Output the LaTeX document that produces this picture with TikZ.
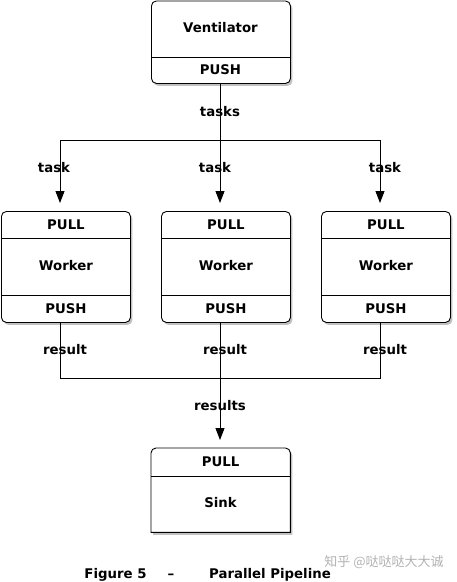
\documentclass[tikz,border=0pt]{standalone}
\usepackage{fontspec}
\setmainfont{DejaVu Sans}
\newfontfamily\cjkfont{Noto Sans CJK SC}
\usetikzlibrary{arrows.meta,shadows,calc}
\begin{document}
\begin{tikzpicture}[x=1pt,y=-1pt,
  boxshadow/.style={drop shadow={shadow xshift=2pt, shadow yshift=-2.5pt, opacity=0.35, fill=black!70}},
  box/.style={draw, line width=0.9pt, rounded corners=5pt, fill=white, boxshadow, inner sep=0pt, anchor=north west},
  lbl/.style={font=\fontsize{13.3}{16}\selectfont\bfseries, inner sep=0pt, text height=9.7pt, text depth=0pt},
  wire/.style={line width=0.9pt},
  arr/.style={wire, -{Triangle[length=12pt,width=9pt]}, shorten >=8pt}]
\useasboundingbox (0,0) rectangle (456,582);
\clip (0,0) rectangle (456,582);
% Ventilator
\node[box, minimum width=139pt, minimum height=82.5pt] (vent) at (151,0.5) {};
\draw[wire] ($(vent.north west)+(0,56.5)$) -- ($(vent.north east)+(0,56.5)$);
\node[lbl] (ventname) at (220.5,28) {Ventilator};
\node[lbl] (ventpush) at (220.5,70) {PUSH};
% Workers
\foreach \i/\x in {1/1,2/161,3/321}{
  \node[box, minimum width=129pt, minimum height=111pt] (w\i) at (\x,211) {};
  \draw[wire] ($(w\i.north west)+(0,27)$) -- ($(w\i.north east)+(0,27)$);
  \draw[wire] ($(w\i.north west)+(0,84)$) -- ($(w\i.north east)+(0,84)$);
  \node[lbl] (w\i pull) at ($(w\i.north)+(0,13.5)$) {PULL};
  \node[lbl] (w\i name) at ($(w\i.north)+(0,55)$) {Worker};
  \node[lbl] (w\i push) at ($(w\i.north)+(0,97.5)$) {PUSH};
}
% Sink
\node[inner sep=0pt, anchor=north west, minimum width=139pt, minimum height=84pt] (sink) at (151,448) {};
\draw[wire, fill=white, boxshadow] (sink.south west) [rounded corners=5pt] -- (sink.north west) -- (sink.north east) [sharp corners] -- (sink.south east) -- cycle;
\draw[wire] ($(sink.north west)+(0,28)$) -- ($(sink.north east)+(0,28)$);
\node[lbl] (sinkpull) at (220.5,462) {PULL};
\node[lbl] (sinkname) at (220.5,503) {Sink};
% task distribution
\coordinate (j0) at (220,140);
\coordinate (jl) at (60,140);
\coordinate (jr) at (380,140);
\draw[wire] (j0 |- vent.south) -- (j0);
\draw[wire] (jl) -- (jr);
\draw[arr] (jl) -- (jl |- w1.north);
\draw[arr] (j0) -- (j0 |- w2.north);
\draw[arr] (jr) -- (jr |- w3.north);
\node[lbl] (tasks) at (220,112) {tasks};
\node[lbl] (task1) at (54,168) {task};
\node[lbl] (task2) at (215,168) {task};
\node[lbl] (task3) at (385,168) {task};
% results collection
\coordinate (rl) at (60,378);
\coordinate (rm) at (220,378);
\coordinate (rr) at (380,378);
\draw[wire] (rl |- w1.south) -- (rl) -- (rr) -- (rr |- w3.south);
\draw[wire] (rm |- w2.south) -- (rm);
\draw[arr] (rm) -- (rm |- sink.north);
\node[lbl] (res1) at (65,350) {result};
\node[lbl] (res2) at (225,350) {result};
\node[lbl] (res3) at (385,350) {result};
\node[lbl] (results) at (220,406) {results};
% caption
\node[lbl] (figlbl) at (115.5,574) {Figure 5};
\node[lbl] (figdash) at (171,574) {–};
\node[lbl] (figtitle) at (270,574) {Parallel Pipeline};
% watermark
\node[inner sep=0pt, text=black!30, font=\cjkfont\fontsize{13}{15}\selectfont] (wm) at (384,562) {知乎 @哒哒哒大大诚};
\end{tikzpicture}
\end{document}
